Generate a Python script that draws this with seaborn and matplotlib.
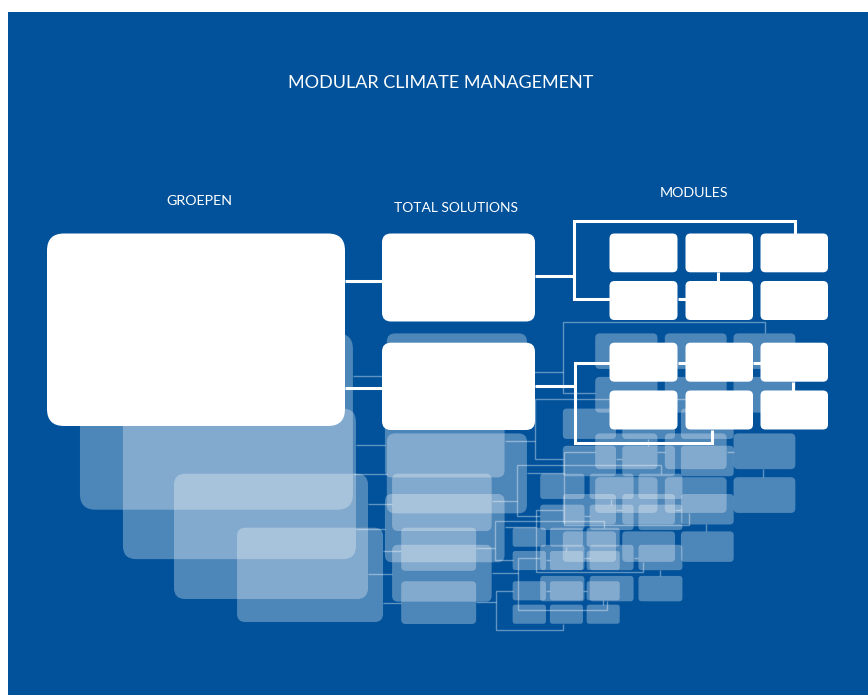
import matplotlib
matplotlib.use("Agg")
import matplotlib.pyplot as plt
from matplotlib.patches import FancyBboxPatch, Rectangle
import seaborn as sns

# diagram data, in pixel units of the base (front) layer
TITLE = "MODULAR CLIMATE MANAGEMENT"
COLUMN_LABELS = ["GROEPEN", "TOTAL SOLUTIONS", "MODULES"]

GROUP_BOX = (47, 233.5, 345, 426)
TS_BOXES = [(382, 233.5, 535, 321.5), (382, 342.7, 535, 430)]
MODULE_COLS = [(609.5, 677.5), (685.5, 753), (760.5, 828)]
MODULE_ROWS = [(233.5, 272.3), (281, 320), (342.7, 381.7), (390.5, 429.5)]

CONNECTORS = [
    [(345, 280.5), (382, 280.5)],
    [(345, 387.5), (382, 387.5)],
    [(535, 275.5), (574, 275.5)],
    [(795, 233.5), (795, 220.7), (574, 220.7), (574, 298.5), (609.5, 298.5)],
    [(677.5, 298.5), (685.5, 298.5)],
    [(718, 272.3), (718, 281)],
    [(535, 385.5), (575, 385.5)],
    [(609.5, 363), (575, 363), (575, 443), (712, 443), (712, 429.5)],
    [(677.5, 363), (685.5, 363)],
    [(753, 363), (760.5, 363)],
    [(793, 381.7), (793, 390.5)],
]

# faded copies behind the front diagram: scale, x offset, y offset
LAYER_SCALES = [0.49, 0.651, 0.782, 0.916]
LAYER_DX = [214.0, 143.4, 86.2, 36.9]
LAYER_DY = [413.3, 321.7, 226.0, 119.5]

BLUE = "#01529b"

sns.set_theme(style="white")
plt.rcParams["font.family"] = ["Lato", "DejaVu Sans"]

fig = plt.figure(figsize=(8.68, 6.95), dpi=100)
ax = fig.add_axes([0, 0, 1, 1])
ax.set_xlim(0, 868)
ax.set_ylim(695, 0)
ax.axis("off")

ax.add_patch(Rectangle((8, 12), 860, 683, facecolor=BLUE, edgecolor="none"))


def draw_diagram(s, dx, dy, alpha, lw, line_alpha, z):
    boxes = [(GROUP_BOX, 17)]
    boxes += [(b, 9) for b in TS_BOXES]
    for r0, r1 in MODULE_ROWS:
        for c0, c1 in MODULE_COLS:
            boxes.append(((c0, r0, c1, r1), 5))
    for (x0, y0, x1, y1), rad in boxes:
        p = FancyBboxPatch((dx + s * x0, dy + s * y0), s * (x1 - x0), s * (y1 - y0),
                           boxstyle=f"round,pad=0,rounding_size={rad * s}",
                           facecolor="white", edgecolor="none", alpha=alpha, zorder=z)
        ax.add_patch(p)
    for path in CONNECTORS:
        xs = [dx + s * px for px, py in path]
        ys = [dy + s * py for px, py in path]
        sns.lineplot(x=xs, y=ys, sort=False, estimator=None, ax=ax, color="white",
                     linewidth=lw, alpha=line_alpha, zorder=z + 0.5,
                     solid_joinstyle="miter", solid_capstyle="butt")


for s, dx, dy in zip(LAYER_SCALES, LAYER_DX, LAYER_DY):
    draw_diagram(s, dx, dy, alpha=0.3, lw=1.0, line_alpha=0.38, z=2)

draw_diagram(1.0, 0, 0, alpha=1.0, lw=2.2, line_alpha=1.0, z=5)

ax.text(441, 83, TITLE, color="white", fontsize=13, ha="center", va="center")
label_pos = [(199, 201), (456, 207.5), (694, 193)]
label_sizes = [10.3, 10, 10.3]
for lab, (x, y), fs in zip(COLUMN_LABELS, label_pos, label_sizes):
    ax.text(x, y, lab, color="white", fontsize=fs, ha="center", va="center")

ax.set_xlim(0, 868)
ax.set_ylim(695, 0)
fig.savefig("out.png", dpi=100, facecolor="white")
